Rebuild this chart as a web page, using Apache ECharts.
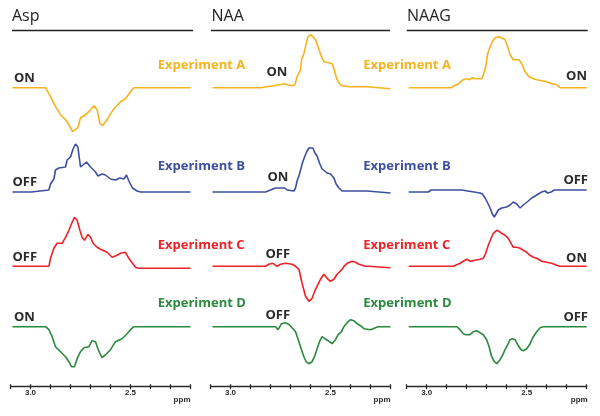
<!DOCTYPE html>
<html><head><meta charset="utf-8">
<script src="https://cdn.jsdelivr.net/npm/echarts@6/dist/echarts.min.js"></script>
<style>html,body{margin:0;padding:0;background:#fff}#c{width:600px;height:416px}</style>
</head><body><div id="c"></div>
<script>
// ---- data ----
const panels = ['Asp', 'NAA', 'NAAG'];
const experiments = ['Experiment A', 'Experiment B', 'Experiment C', 'Experiment D'];
const states = [['ON', 'OFF', 'OFF', 'ON'], ['ON', 'ON', 'OFF', 'OFF'], ['ON', 'OFF', 'ON', 'OFF']];
const tickLabels = ['3.0', '2.5'];
const axisUnit = 'ppm';
const ppmMin = 2.2, ppmMax = 3.1, ppmStep = 0.1;

// [ppm, intensity (a.u.)]
const aspA = [[3.09,0],[2.925,0],[2.90,-9],[2.875,-19],[2.85,-27],[2.825,-32],[2.808,-37],[2.79,-44],[2.78,-46],[2.763,-40],[2.75,-30],[2.725,-27],[2.708,-24],[2.683,-18],[2.667,-22],[2.653,-36],[2.64,-38],[2.617,-32],[2.583,-21],[2.55,-14],[2.525,-11],[2.50,-4],[2.483,0],[2.2,0]];
const aspB = [[3.09,0],[2.995,0],[2.99,2],[2.908,2],[2.90,8],[2.883,13],[2.875,22],[2.858,24],[2.825,25],[2.817,32],[2.80,35],[2.787,43],[2.775,48],[2.763,45],[2.75,25],[2.72,30],[2.70,25],[2.675,20],[2.663,16],[2.642,18],[2.625,17],[2.60,13],[2.575,12],[2.553,14],[2.533,13],[2.52,17],[2.508,11],[2.49,4],[2.467,1],[2.45,0],[2.2,0]];
const aspC = [[3.09,0],[2.908,0],[2.90,8],[2.883,18],[2.867,23],[2.842,23],[2.825,29],[2.808,36],[2.792,44],[2.78,49],[2.767,46],[2.753,36],[2.742,29],[2.73,26],[2.713,32],[2.70,29],[2.687,23],[2.667,19],[2.65,17],[2.617,14],[2.592,9],[2.567,11],[2.55,13],[2.525,14],[2.508,8],[2.49,3],[2.475,-1],[2.46,-2],[2.2,-2]];
const aspD = [[3.09,0],[2.925,0],[2.908,-3],[2.892,-10],[2.875,-20],[2.85,-25],[2.825,-30],[2.808,-35],[2.795,-40],[2.78,-40],[2.767,-32],[2.75,-25],[2.733,-21],[2.708,-20],[2.692,-14],[2.675,-15],[2.663,-22],[2.65,-28],[2.642,-31],[2.625,-28],[2.60,-23],[2.575,-15],[2.542,-12],[2.517,-7],[2.50,-3],[2.483,0],[2.2,0]];

const naaA = [[3.09,0],[2.85,0],[2.845,2],[2.783,2],[2.775,4],[2.728,4],[2.717,3],[2.692,2],[2.678,3],[2.667,11],[2.65,18],[2.645,28],[2.633,34],[2.622,44],[2.612,51],[2.60,53],[2.588,51],[2.575,48],[2.562,41],[2.545,31],[2.533,26],[2.508,25],[2.492,24],[2.483,19],[2.475,13],[2.467,8],[2.455,4],[2.442,2],[2.408,1],[2.317,1],[2.308,-1],[2.2,-1]];
const naaB = [[3.09,0],[2.825,0],[2.822,2],[2.775,4],[2.728,4],[2.717,2],[2.683,1],[2.675,4],[2.667,11],[2.655,18],[2.642,28],[2.628,36],[2.617,41],[2.608,44],[2.588,44],[2.578,39],[2.567,36],[2.555,29],[2.542,23],[2.517,19],[2.50,18],[2.483,14],[2.472,8],[2.458,4],[2.442,1],[2.317,1],[2.308,-1],[2.2,-1]];
const naaC = [[3.09,0],[2.825,0],[2.808,2],[2.788,3],[2.767,0],[2.75,2],[2.725,3],[2.692,2],[2.675,0],[2.658,-3],[2.642,-17],[2.625,-30],[2.608,-35],[2.592,-32],[2.575,-23],[2.55,-13],[2.533,-8],[2.517,-12],[2.50,-15],[2.483,-13],[2.467,-8],[2.442,-3],[2.433,0],[2.417,3],[2.392,5],[2.375,4],[2.358,2],[2.325,0],[2.31,0],[2.305,-1.5],[2.2,-1.5]];
const naaD = [[3.09,0],[2.775,0],[2.762,-3],[2.745,3],[2.725,4],[2.705,2],[2.692,-1],[2.675,-5],[2.658,-15],[2.645,-23],[2.633,-30],[2.622,-35],[2.608,-37],[2.592,-35],[2.578,-29],[2.567,-22],[2.555,-15],[2.542,-10],[2.528,-12],[2.512,-14],[2.492,-17],[2.475,-13],[2.462,-8],[2.445,-5],[2.433,0],[2.417,4],[2.40,7],[2.383,6],[2.367,3],[2.35,1],[2.333,-2],[2.30,-3],[2.275,-1],[2.262,0],[2.2,0]];

const naagA = [[3.09,0],[2.875,0],[2.862,2],[2.842,4],[2.817,8],[2.80,9],[2.783,8],[2.772,10],[2.758,9],[2.725,9],[2.717,13],[2.705,21],[2.695,34],[2.683,41],[2.672,46],[2.658,50],[2.642,51],[2.625,50],[2.608,48],[2.595,41],[2.583,33],[2.567,28],[2.538,28],[2.525,24],[2.508,16],[2.488,11],[2.467,9],[2.45,8],[2.425,7],[2.40,6],[2.375,4],[2.35,3],[2.333,0],[2.2,0]];
const naagB = [[3.09,0],[2.992,0],[2.978,2],[2.825,2],[2.817,0],[2.733,-1],[2.722,-2],[2.708,-6],[2.695,-11],[2.683,-16],[2.672,-22],[2.662,-25],[2.642,-18],[2.625,-16],[2.60,-15],[2.583,-13],[2.567,-10],[2.55,-12],[2.533,-16],[2.517,-13],[2.492,-9],[2.475,-6],[2.458,-4],[2.442,-2],[2.425,0],[2.408,1],[2.395,-1],[2.378,0],[2.362,2],[2.2,2]];
const naagC = [[3.09,0],[2.867,0],[2.858,2],[2.833,3],[2.817,5],[2.80,7],[2.783,5],[2.758,6],[2.733,7],[2.717,8],[2.705,13],[2.692,21],[2.678,28],[2.667,33],[2.65,36],[2.638,35],[2.625,33],[2.608,31],[2.592,28],[2.578,23],[2.567,19],[2.55,19],[2.533,18],[2.517,16],[2.50,14],[2.483,11],[2.467,9],[2.45,8],[2.425,5],[2.40,4],[2.375,3],[2.35,1],[2.333,0],[2.2,0]];
const naagD = [[3.09,0],[2.85,0],[2.833,-3],[2.817,-7],[2.805,-8],[2.783,-8],[2.767,-5],[2.75,-4],[2.733,-6],[2.717,-8],[2.70,-13],[2.688,-20],[2.675,-30],[2.662,-35],[2.65,-37],[2.633,-33],[2.622,-29],[2.608,-23],[2.595,-18],[2.583,-13],[2.572,-12],[2.558,-13],[2.545,-18],[2.528,-23],[2.517,-24],[2.50,-22],[2.483,-17],[2.467,-10],[2.45,-5],[2.433,-1],[2.417,0],[2.2,0]];

// ---- layout / style ----
const traces = [[aspA, aspB, aspC, aspD], [naaA, naaB, naaC, naaD], [naagA, naagB, naagC, naagD]];
const colors = ['#F6B31B', '#3D4FA1', '#EC2227', '#2B8A3E'];
const panelLeft = [10.5, 210.5, 406.7];
const panelWidth = 180;
const rowBase = [87.7, 192, 266.3, 326.7];
const half = 60;
const dark = '#2b2b2b';
const labelFont = '"Open Sans", "Liberation Sans", sans-serif';

const fmt = v => { const s = Number(v).toFixed(1); return tickLabels.includes(s) ? s : ''; };

const grid = [], xAxis = [], yAxis = [], series = [];
panels.forEach((p, pi) => {
  rowBase.forEach((b, ri) => {
    const idx = grid.length;
    grid.push({ left: panelLeft[pi], width: panelWidth, top: b - half, height: 2 * half });
    xAxis.push({
      gridIndex: idx, type: 'value', min: ppmMin, max: ppmMax, interval: ppmStep, inverse: true,
      show: ri === 3, position: 'bottom',
      axisLine: { show: true, onZero: false, lineStyle: { color: dark, width: 1.3 } },
      axisTick: { show: true, length: 2.5, lineStyle: { color: dark, width: 1.3 } },
      axisLabel: { show: true, margin: 2, fontSize: 8, fontWeight: 'bold', color: dark,
        fontFamily: '"Liberation Sans Narrow", "Liberation Sans", sans-serif', formatter: fmt,
        showMinLabel: true, showMaxLabel: true },
      splitLine: { show: false }
    });
    yAxis.push({ gridIndex: idx, type: 'value', min: -half, max: half, show: false });
    series.push({
      type: 'line', xAxisIndex: idx, yAxisIndex: idx, data: traces[pi][ri],
      showSymbol: false, symbol: 'none', clip: false, silent: true, smooth: false,
      lineStyle: { color: colors[ri], width: 1.6 }
    });
  });
});
// inner half of the crossing ticks
panels.forEach((p, pi) => {
  const idx = grid.length;
  const b = rowBase[3];
  grid.push({ left: panelLeft[pi], width: panelWidth, top: b - half, height: 2 * half });
  xAxis.push({
    gridIndex: idx, type: 'value', min: ppmMin, max: ppmMax, interval: ppmStep, inverse: true, position: 'bottom',
    axisLine: { show: false, onZero: false },
    axisTick: { show: true, inside: true, length: 2.5, lineStyle: { color: dark, width: 1.3 } },
    axisLabel: { show: false }, splitLine: { show: false }
  });
  yAxis.push({ gridIndex: idx, type: 'value', min: -half, max: half, show: false });
});

const graphic = [];
const titlePos = [[12, 16], [211.5, 16], [407, 16]];
const titleLine = [[12, 193], [211, 390], [406.7, 587.7]];
panels.forEach((p, pi) => {
  graphic.push({ type: 'text', x: titlePos[pi][0], y: titlePos[pi][1], silent: true,
    style: { text: p, fill: '#222', font: '16px "Open Sans", sans-serif', textAlign: 'left', align: 'left', textVerticalAlign: 'middle', verticalAlign: 'middle' } });
  graphic.push({ type: 'line', silent: true, shape: { x1: titleLine[pi][0], y1: 30.5, x2: titleLine[pi][1], y2: 30.5 },
    style: { stroke: '#222', lineWidth: 1.5 } });
  graphic.push({ type: 'text', x: panelLeft[pi] + panelWidth + (pi === 2 ? 1 : 0), y: 400, silent: true,
    style: { text: axisUnit, fill: dark, font: 'bold 8px "Liberation Sans Narrow", "Liberation Sans", sans-serif', textAlign: 'right', align: 'right', textVerticalAlign: 'middle', verticalAlign: 'middle' } });
});
// ON / OFF labels
const statePos = [
  [[14, 78], [12.5, 182], [12.5, 257.5], [14, 317.5]],
  [[266.5, 72.5], [267.5, 177.5], [265.5, 254], [265.5, 315]],
  [[587, 76], [588, 180.5], [587, 258], [588, 317.5]]
];
states.forEach((col, pi) => col.forEach((s, ri) => {
  const al = pi === 2 ? 'right' : 'left';
  graphic.push({ type: 'text', x: statePos[pi][ri][0], y: statePos[pi][ri][1], silent: true,
    style: { text: s, fill: dark, font: 'bold 13px ' + labelFont, textAlign: al, align: al, textVerticalAlign: 'middle', verticalAlign: 'middle' } });
}));
// Experiment labels
const expX = [157.7, 363.3];
const expY = [65, 166, 245, 303];
expX.forEach(x => experiments.forEach((e, ri) => {
  graphic.push({ type: 'text', x: x, y: expY[ri], silent: true,
    style: { text: e, fill: colors[ri], font: 'bold 13px ' + labelFont, textAlign: 'left', align: 'left', textVerticalAlign: 'middle', verticalAlign: 'middle' } });
}));

const chart = echarts.init(document.getElementById('c'), null, { renderer: 'canvas' });
chart.setOption({
  animation: false,
  backgroundColor: '#fff',
  grid, xAxis, yAxis, series, graphic
});
</script>
</body></html>
